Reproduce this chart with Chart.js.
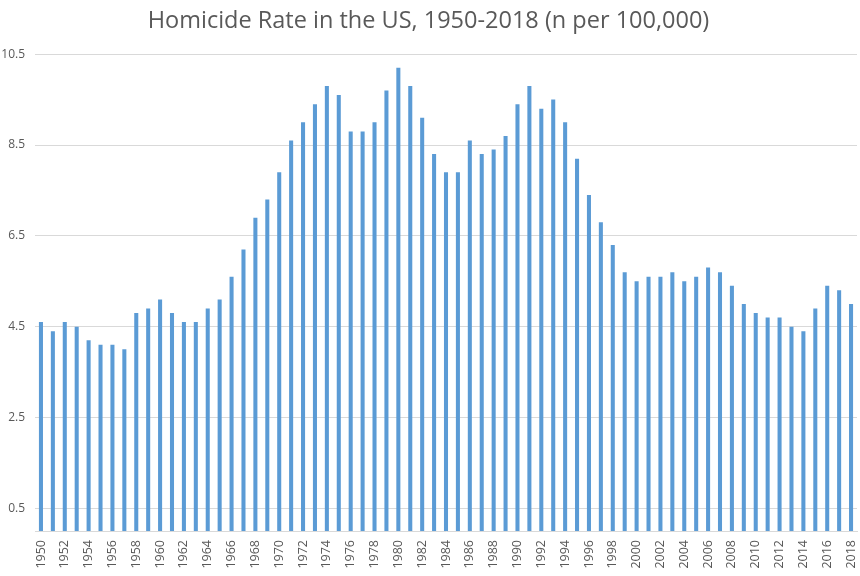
<!DOCTYPE html>
<html lang="en">
<head>
    <meta charset="UTF-8">
    <title>Homicide Rate in the US</title>
    <script src="https://cdn.jsdelivr.net/npm/chart.js"></script>
    <style>
        html, body { margin: 0; padding: 0; background: #ffffff; }
        .chart-box { width: 860px; height: 576px; }
    </style>
</head>
<body>
    <div class="chart-box">
        <canvas id="homicideChart"></canvas>
    </div>
    <script>
        // years 1950..2018, values
        const years = [
            '1950', '1951', '1952', '1953', '1954', '1955', '1956', '1957', '1958', '1959',
            '1960', '1961', '1962', '1963', '1964', '1965', '1966', '1967', '1968', '1969',
            '1970', '1971', '1972', '1973', '1974', '1975', '1976', '1977', '1978', '1979',
            '1980', '1981', '1982', '1983', '1984', '1985', '1986', '1987', '1988', '1989',
            '1990', '1991', '1992', '1993', '1994', '1995', '1996', '1997', '1998', '1999',
            '2000', '2001', '2002', '2003', '2004', '2005', '2006', '2007', '2008', '2009',
            '2010', '2011', '2012', '2013', '2014', '2015', '2016', '2017', '2018'
        ];
        const rates = [
            4.6, 4.4, 4.6, 4.5, 4.2, 4.1, 4.1, 4.0, 4.8, 4.9,
            5.1, 4.8, 4.6, 4.6, 4.9, 5.1, 5.6, 6.2, 6.9, 7.3,
            7.9, 8.6, 9.0, 9.4, 9.8, 9.6, 8.8, 8.8, 9.0, 9.7,
            10.2, 9.8, 9.1, 8.3, 7.9, 7.9, 8.6, 8.3, 8.4, 8.7,
            9.4, 9.8, 9.3, 9.5, 9.0, 8.2, 7.4, 6.8, 6.3, 5.7,
            5.5, 5.6, 5.6, 5.7, 5.5, 5.6, 5.8, 5.7, 5.4, 5.0,
            4.8, 4.7, 4.7, 4.5, 4.4, 4.9, 5.4, 5.3, 5.0
        ];
        const yTicks = [0.5, 2.5, 4.5, 6.5, 8.5, 10.5];

        const textGrey = '#595959';
        const gridGrey = '#d9d9d9';

        const ctx = document.getElementById('homicideChart').getContext('2d');
        new Chart(ctx, {
            type: 'bar',
            data: {
                labels: years,
                datasets: [{
                    label: 'Homicide rate',
                    data: rates,
                    backgroundColor: '#5b9bd5',
                    borderWidth: 0,
                    barPercentage: 0.34,
                    categoryPercentage: 1.0
                }]
            },
            options: {
                responsive: true,
                maintainAspectRatio: false,
                animation: false,
                layout: {
                    padding: { left: 0, right: 3, top: 0, bottom: 0 }
                },
                plugins: {
                    legend: { display: false },
                    tooltip: { enabled: false },
                    title: {
                        display: true,
                        text: 'Homicide Rate in the US, 1950-2018 (n per 100,000)',
                        color: textGrey,
                        font: { family: 'Open Sans', size: 23.5, weight: 'normal', lineHeight: 1.2 },
                        padding: { top: 7, bottom: 19 }
                    }
                },
                scales: {
                    x: {
                        grid: { display: false, drawTicks: false },
                        border: { display: true, color: gridGrey, width: 1 },
                        ticks: {
                            color: textGrey,
                            font: { family: 'Open Sans', size: 12.5 },
                            autoSkip: false,
                            minRotation: 90,
                            maxRotation: 90,
                            padding: 9,
                            callback: function(value, index) {
                                return index % 2 === 0 ? this.getLabelForValue(value) : '';
                            }
                        },
                        afterFit: function(scale) {
                            scale.height = 45;
                            scale.paddingLeft = 0;
                            scale.paddingRight = 0;
                        }
                    },
                    y: {
                        min: 0,
                        max: 10.5,
                        grid: { color: gridGrey, drawTicks: false },
                        border: { display: false },
                        ticks: {
                            color: textGrey,
                            font: { family: 'Open Sans', size: 12 },
                            padding: 10
                        },
                        afterBuildTicks: function(scale) {
                            scale.ticks = yTicks.map(v => ({ value: v }));
                        },
                        afterFit: function(scale) { scale.width = 35; }
                    }
                }
            }
        });
    </script>
</body>
</html>
